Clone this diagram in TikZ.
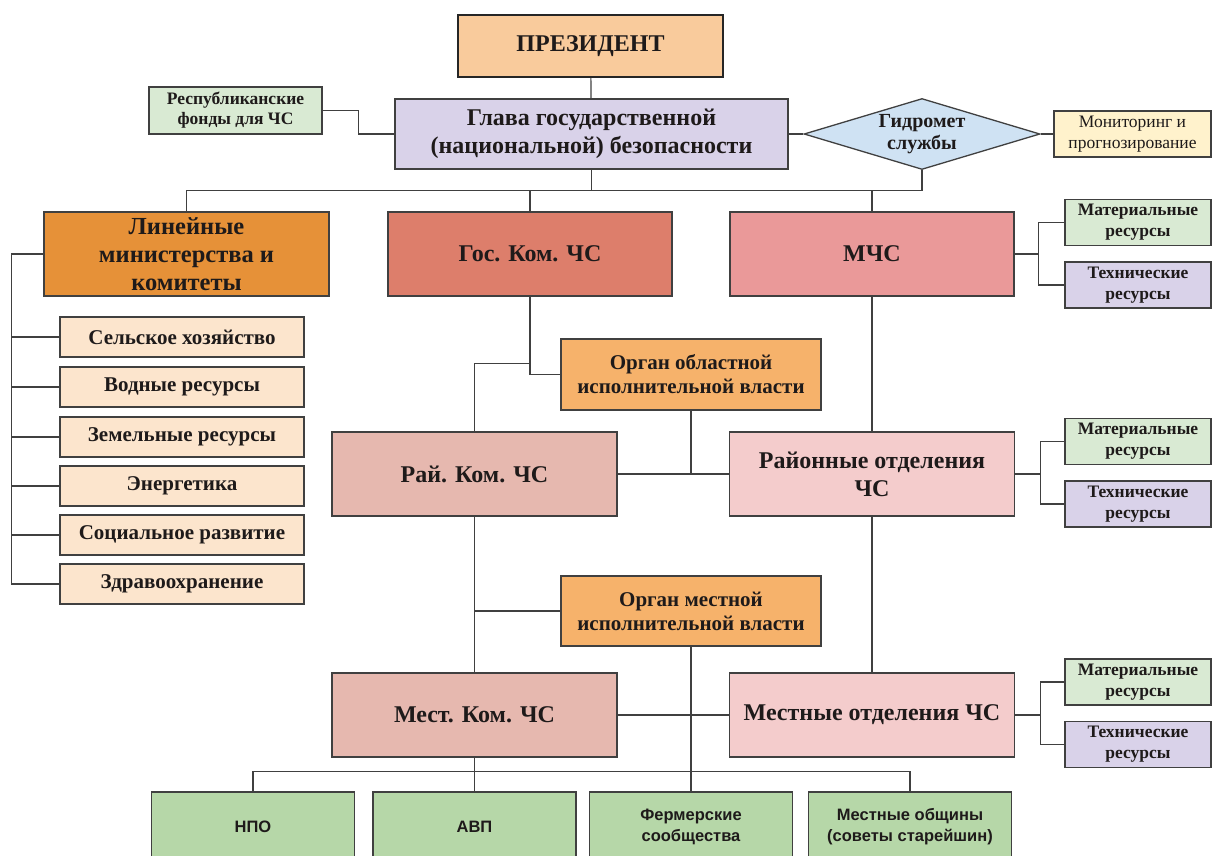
\documentclass[tikz,border=0pt]{standalone}
\usepackage{fontspec}
\setmainfont{Liberation Serif}
\newfontfamily\sansf{Liberation Sans}
\usetikzlibrary{shapes.geometric,calc}

\definecolor{linec}{HTML}{404040}
\definecolor{txtc}{HTML}{1E1A1A}
\definecolor{presc}{HTML}{F9CB9C}
\definecolor{headc}{HTML}{D9D2E9}
\definecolor{greenc}{HTML}{D9EAD3}
\definecolor{bluec}{HTML}{CFE2F3}
\definecolor{yellc}{HTML}{FFF2CC}
\definecolor{minc}{HTML}{E69138}
\definecolor{gosc}{HTML}{DD7E6B}
\definecolor{mchsc}{HTML}{EA9999}
\definecolor{subc}{HTML}{FCE5CD}
\definecolor{organc}{HTML}{F6B26B}
\definecolor{raic}{HTML}{E6B8AF}
\definecolor{otdc}{HTML}{F4CCCC}
\definecolor{botc}{HTML}{B6D7A8}

\tikzset{
  box/.style={draw=linec, line width=1.3pt, text=txtc, align=center, inner sep=1pt, font=\bfseries},
  sz/.style 2 args={minimum width=#1, minimum height=#2},
  big/.style={font=\bfseries\fontsize{24}{28}\selectfont},
  mid/.style={font=\bfseries\fontsize{21}{24}\selectfont},
  small/.style={font=\bfseries\fontsize{17.5}{21}\selectfont},
  subbox/.style={box, fill=subc, sz={244}{40}, font=\bfseries\fontsize{21}{24}\selectfont},
  resbox/.style={box, sz={146}{46}, small},
  botbox/.style={box, fill=botc, sz={203}{70}, font=\sansf\bfseries\fontsize{16.5}{21}\selectfont},
  conn/.style={draw=linec, line width=1.2pt}
}

\begin{document}
\begin{tikzpicture}[x=1pt, y=-1pt]
  \useasboundingbox (0,0) rectangle (1213,855);

  \node[box, fill=presc, draw=black!85, line width=2.2pt, sz={265}{62}, font=\bfseries\fontsize{24}{28}\selectfont] (pres) at (590.5,46) {ПРЕЗИДЕНТ};
  \node[box, fill=headc, sz={393}{70}, big] (glava) at (591.5,134) {Глава государственной\\(национальной) безопасности};
  \node[box, fill=greenc, sz={173}{47}, small, font=\bfseries\fontsize{17.5}{20}\selectfont] (resp) at (235.5,110.5) {Республиканские\\фонды для ЧС};
  \node[diamond, aspect=3.3, draw=linec, line width=1.3pt, fill=bluec, text=txtc, align=center, inner sep=0pt,
        sz={236}{71}, font=\bfseries\fontsize{20}{22}\selectfont] (gidro) at (922,134) {Гидромет\\службы};
  \node[box, fill=yellc, sz={157}{46}, font=\fontsize{17.5}{21}\selectfont] (monit) at (1132.5,134) {Мониторинг и\\прогнозирование};

  \node[box, fill=minc, sz={285}{84}, font=\bfseries\fontsize{24.5}{28}\selectfont] (minist) at (186.5,254) {Линейные\\министерства и\\комитеты};
  \node[box, fill=gosc, sz={284}{84}, big] (goskom) at (530,254) {Гос. Ком. ЧС};
  \node[box, fill=mchsc, sz={284}{84}, big] (mchs) at (872,254) {МЧС};
  \node[resbox, fill=greenc] (mat1) at (1138,222.5) {Материальные\\ресурсы};
  \node[resbox, fill=headc] (tech1) at (1138,285) {Технические\\ресурсы};

  \node[subbox] (sub1) at (182,337) {Сельское хозяйство};
  \node[subbox] (sub2) at (182,387) {Водные ресурсы};
  \node[subbox] (sub3) at (182,437) {Земельные ресурсы};
  \node[subbox] (sub4) at (182,486) {Энергетика};
  \node[subbox] (sub5) at (182,535) {Социальное развитие};
  \node[subbox] (sub6) at (182,584) {Здравоохранение};

  \node[box, fill=organc, sz={260}{71}, mid] (orgobl) at (691,374.5) {Орган областной\\исполнительной власти};
  \node[box, fill=raic, sz={285}{84}, big] (raikom) at (474.5,474) {Рай. Ком. ЧС};
  \node[box, fill=otdc, sz={285}{84}, big] (raiotd) at (872,474) {Районные отделения\\ЧС};
  \node[resbox, fill=greenc] (mat2) at (1138,441.5) {Материальные\\ресурсы};
  \node[resbox, fill=headc] (tech2) at (1138,504) {Технические\\ресурсы};

  \node[box, fill=organc, sz={260}{70}, mid] (orgmest) at (691,611) {Орган местной\\исполнительной власти};
  \node[box, fill=raic, sz={285}{84}, big] (mestkom) at (474.5,715) {Мест. Ком. ЧС};
  \node[box, fill=otdc, sz={285}{84}, big] (mestotd) at (872,715) {Местные отделения ЧС};
  \node[resbox, fill=greenc] (mat3) at (1138,682) {Материальные\\ресурсы};
  \node[resbox, fill=headc] (tech3) at (1138,744.5) {Технические\\ресурсы};

  \node[botbox] (npo) at (253,827) {НПО};
  \node[botbox] (avp) at (474.5,827) {АВП};
  \node[botbox] (ferm) at (691,827) {Фермерские\\сообщества};
  \node[botbox] (obsh) at (910,827) {Местные общины\\(советы старейшин)};

  \draw[conn] (pres) -- (glava);
  \draw[conn] (resp.east) -- ++(36,0) |- (glava.west);
  \draw[conn] (glava.east) -- (gidro.west);
  \draw[conn] (gidro.east) -- (monit.west);
  \draw[conn] (glava.south) -- ++(0,21) coordinate (bus);
  \draw[conn] (minist.north) |- (bus) -| (gidro.south);
  \draw[conn] (goskom.north) -- (goskom.north |- bus);
  \draw[conn] (mchs.north) -- (mchs.north |- bus);

  \draw[conn] (minist.west) -- ++(-32,0) coordinate (mleft);
  \foreach \s in {sub1,sub2,sub3,sub4,sub5,sub6}
    \draw[conn] (mleft) |- (\s.west);

  \draw[conn] (mchs.east) -- ++(24,0) coordinate (r1);
  \draw[conn] (mat1.west) -| (r1) |- (tech1.west);

  \draw[conn] (goskom.south) |- (orgobl.west);
  \draw[conn] (goskom.south) ++(0,67) -| (raikom.north);
  \draw[conn] (orgobl.south) -- (orgobl.south |- raikom.east);
  \draw[conn] (raikom.east) -- (raiotd.west);
  \draw[conn] (mchs.south) -- (raiotd.north);
  \draw[conn] (raiotd.east) -- ++(25,0) coordinate (r2);
  \draw[conn] (mat2.west) -| (r2) |- (tech2.west);

  \draw[conn] (raikom.south) -- (mestkom.north);
  \draw[conn] (raikom.south |- orgmest.west) -- (orgmest.west);
  \draw[conn] (raiotd.south) -- (mestotd.north);
  \draw[conn] (mestkom.east) -- (mestotd.west);
  \draw[conn] (mestotd.east) -- ++(25,0) coordinate (r3);
  \draw[conn] (mat3.west) -| (r3) |- (tech3.west);

  \draw[conn] (orgmest.south) -- (ferm.north);
  \draw[conn] (mestkom.south) -- (avp.north);
  \draw[conn] (npo.north) -- ++(0,-20) -| (obsh.north);
\end{tikzpicture}
\end{document}
